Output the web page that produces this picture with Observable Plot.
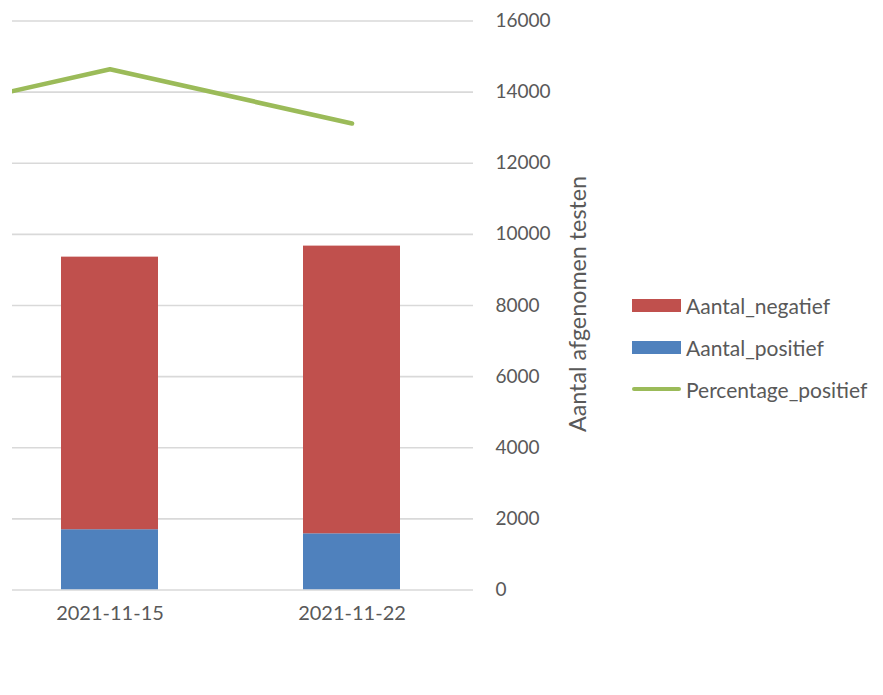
<!DOCTYPE html>
<html>
<head>
<meta charset="utf-8">
<script src="https://cdn.jsdelivr.net/npm/d3@7"></script>
<script src="https://cdn.jsdelivr.net/npm/@observablehq/plot@0.6"></script>
<style>
  html, body { margin: 0; padding: 0; background: white; }
  #wrap { position: relative; width: 883px; height: 695px; overflow: hidden; font-family: Lato, "Open Sans", sans-serif; color: #595959; }
  #ytitle { position: absolute; left: 577px; top: 304px; transform: translate(-50%, -50%) rotate(-90deg); white-space: nowrap; font-size: 23.3px; }
  #legend { position: absolute; left: 632px; top: 284.6px; font-size: 21px; }
  .row { display: flex; align-items: center; height: 41.8px; }
  .sw { width: 49px; margin-right: 5px; }
</style>
</head>
<body>
<div id="wrap">
  <div id="chart"></div>
  <div id="ytitle">Aantal afgenomen testen</div>
  <div id="legend"></div>
</div>
<script>
// Category axis: the first week lies outside the visible (cropped) plot area
const allDates = ["2021-11-08", "2021-11-15", "2021-11-22"];
const shownDates = ["2021-11-15", "2021-11-22"];

// Stacked bar values
const barDates = ["2021-11-15", "2021-11-22"];
const aantalPositief = [1695, 1580];
const aantalNegatief = [7665, 8090];

// Percentage positive (secondary, hidden axis 0–20 %)
const pctDates = ["2021-11-08", "2021-11-15", "2021-11-22"];
const percentagePositief = [16.4, 18.3, 16.4];
const pctAxisMax = 20;

// Primary axis ticks
const yTicks = [0, 2000, 4000, 6000, 8000, 10000, 12000, 14000, 16000];
const yMax = 16000;

const seriesNames = ["Aantal_negatief", "Aantal_positief", "Percentage_positief"];
const colors = {"Aantal_negatief": "#C0504D", "Aantal_positief": "#4F81BD", "Percentage_positief": "#9BBB59"};

const stackData = [
  ...barDates.map((d, i) => ({date: d, series: "Aantal_positief", value: aantalPositief[i]})),
  ...barDates.map((d, i) => ({date: d, series: "Aantal_negatief", value: aantalNegatief[i]}))
];
const lineData = pctDates.map((d, i) => ({date: d, pct: percentagePositief[i]}));

const chart = Plot.plot({
  width: 883,
  height: 695,
  marginLeft: 12,
  marginRight: 410,
  marginTop: 20.5,
  marginBottom: 105.5,
  style: {fontFamily: "Lato, 'Open Sans', sans-serif", fontSize: "19px", color: "#595959", background: "white"},
  x: {type: "band", domain: allDates, range: [-254.7, 473.4], paddingInner: 0.6, paddingOuter: 0.3, axis: null},
  y: {domain: [0, yMax], ticks: yTicks, axis: "right", tickSize: 0, tickPadding: 22, label: null, tickFormat: d => String(d)},
  color: {domain: Object.keys(colors), range: Object.values(colors)},
  marks: [
    Plot.ruleY(yTicks, {stroke: "#D9D9D9", strokeWidth: 1.6}),
    Plot.barY(stackData, {x: "date", y: "value", fill: "series", clip: true}),
    Plot.line(lineData, {x: "date", y: d => d.pct / pctAxisMax * yMax, stroke: colors["Percentage_positief"], strokeWidth: 4.6, strokeLinecap: "round", strokeLinejoin: "round", clip: true}),
    Plot.text(shownDates, {x: d => d, frameAnchor: "bottom", dy: 30, fill: "#595959", fontSize: 20})
  ]
});
document.getElementById("chart").appendChild(chart);

const legend = document.getElementById("legend");
seriesNames.forEach(name => {
  const row = document.createElement("div");
  row.className = "row";
  const sw = document.createElement("div");
  sw.className = "sw";
  if (name === "Percentage_positief") {
    sw.style.height = "4.6px";
    sw.style.borderRadius = "3px";
  } else {
    sw.style.height = "13px";
  }
  sw.style.background = colors[name];
  const label = document.createElement("span");
  label.textContent = name;
  row.appendChild(sw);
  row.appendChild(label);
  legend.appendChild(row);
});
</script>
</body>
</html>
